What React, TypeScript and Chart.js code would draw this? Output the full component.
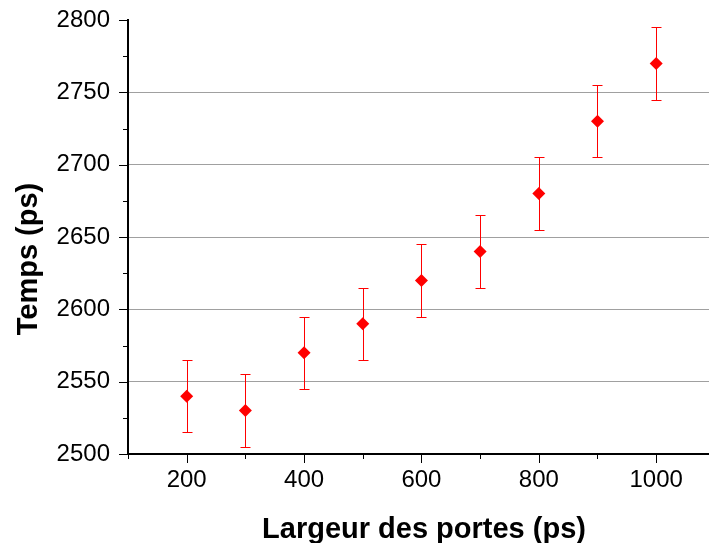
import React, { useEffect, useRef } from "react";
import { Chart, registerables } from "chart.js";

Chart.register(...registerables);

const largeurs = [200, 300, 400, 500, 600, 700, 800, 900, 1000];
const temps = [2540, 2530, 2570, 2590, 2620, 2640, 2680, 2730, 2770];
const erreurs = [25, 25, 25, 25, 25, 25, 25, 25, 25];
const xLabelsShown = [200, 400, 600, 800, 1000];
const yLabelsShown = [2500, 2550, 2600, 2650, 2700, 2750, 2800];
const xTitle = "Largeur des portes (ps)";
const yTitle = "Temps (ps)";

const FONT = "'Liberation Sans', Arial, Helvetica, sans-serif";

const customPlugin = {
  id: "custom",
  beforeDatasetsDraw(chart: any) {
    const ctx = chart.ctx;
    const xs = chart.scales.x;
    const ys = chart.scales.y;
    ctx.save();
    ctx.strokeStyle = "#ff0000";
    ctx.lineWidth = 1;
    largeurs.forEach((xv, i) => {
      const px = Math.round(xs.getPixelForValue(xv)) + 0.5;
      const yTop = Math.round(ys.getPixelForValue(temps[i] + erreurs[i])) + 0.5;
      const yBot = Math.round(ys.getPixelForValue(temps[i] - erreurs[i])) + 0.5;
      ctx.beginPath();
      ctx.moveTo(px, yTop);
      ctx.lineTo(px, yBot);
      ctx.moveTo(px - 5, yTop);
      ctx.lineTo(px + 5, yTop);
      ctx.moveTo(px - 5, yBot);
      ctx.lineTo(px + 5, yBot);
      ctx.stroke();
    });
    ctx.restore();
  },
  afterDraw(chart: any) {
    const ctx = chart.ctx;
    const xs = chart.scales.x;
    const ys = chart.scales.y;
    const area = chart.chartArea;
    ctx.save();
    ctx.strokeStyle = "#000";
    ctx.lineWidth = 1;
    ctx.beginPath();
    for (let v = 2500; v <= 2800; v += 25) {
      const py = Math.round(ys.getPixelForValue(v)) + 0.5;
      const major = v % 50 === 0;
      ctx.moveTo(area.left - (major ? 9 : 5), py);
      ctx.lineTo(area.left, py);
    }
    for (let v = 100; v <= 1000; v += 100) {
      const px = Math.round(xs.getPixelForValue(v)) + 0.5;
      const major = v % 200 === 0;
      ctx.moveTo(px, area.bottom);
      ctx.lineTo(px, area.bottom + (major ? 9 : 5));
    }
    ctx.stroke();

    ctx.fillStyle = "#000";
    ctx.font = `bold 29px ${FONT}`;
    ctx.textAlign = "center";
    ctx.textBaseline = "alphabetic";
    ctx.fillText(xTitle, 424, 538);

    ctx.translate(37, 259);
    ctx.rotate(-Math.PI / 2);
    ctx.fillText(yTitle, 0, 0);
    ctx.restore();
  },
};

export default function App() {
  const ref = useRef<HTMLCanvasElement>(null);
  useEffect(() => {
    document.body.style.margin = "0";
    const chart = new Chart(ref.current as HTMLCanvasElement, {
      type: "scatter",
      data: {
        datasets: [
          {
            data: largeurs.map((x, i) => ({ x, y: temps[i] })),
            pointStyle: "rectRot",
            pointRadius: 6.5,
            backgroundColor: "#ff0000",
            borderColor: "#ff0000",
            borderWidth: 0,
            showLine: false,
          },
        ],
      },
      options: {
        responsive: false,
        animation: false,
        devicePixelRatio: 1,
        layout: { autoPadding: false, padding: { top: 20, right: 0, left: 0, bottom: 0 } },
        plugins: { legend: { display: false }, tooltip: { enabled: false } },
        scales: {
          x: {
            type: "linear",
            min: 100,
            max: 1090,
            afterFit: (s: any) => {
              s.height = 89;
              s.paddingLeft = 0;
              s.paddingRight = 0;
            },
            afterBuildTicks: (s: any) => {
              s.ticks = xLabelsShown.map((v) => ({ value: v }));
            },
            ticks: {
              color: "#000",
              font: { family: FONT, size: 24 },
              padding: 3,
              maxRotation: 0,
              callback: (v: any) => String(v),
            },
            grid: { display: false, drawTicks: true, tickLength: 9 },
            border: { display: true, color: "#000", width: 2 },
          },
          y: {
            type: "linear",
            min: 2500,
            max: 2800,
            afterFit: (s: any) => {
              s.width = 128;
              s.paddingTop = 0;
              s.paddingBottom = 0;
            },
            afterBuildTicks: (s: any) => {
              s.ticks = yLabelsShown.map((v) => ({ value: v }));
            },
            ticks: {
              color: "#000",
              font: { family: FONT, size: 24 },
              padding: 9,
              callback: (v: any) => String(v),
            },
            grid: {
              color: (c: any) =>
                c.tick && (c.tick.value === 2500 || c.tick.value === 2800)
                  ? "rgba(0,0,0,0)"
                  : "#a0a0a0",
              lineWidth: 1,
              drawTicks: true,
              tickLength: 9,
              tickColor: "rgba(0,0,0,0)",
            },
            border: { display: true, color: "#000", width: 2 },
          },
        },
      },
      plugins: [customPlugin],
    });
    return () => chart.destroy();
  }, []);
  return (
    <div style={{ width: 709, height: 543, background: "#fff" }}>
      <canvas ref={ref} width={709} height={543} style={{ display: "block" }} />
    </div>
  );
}
